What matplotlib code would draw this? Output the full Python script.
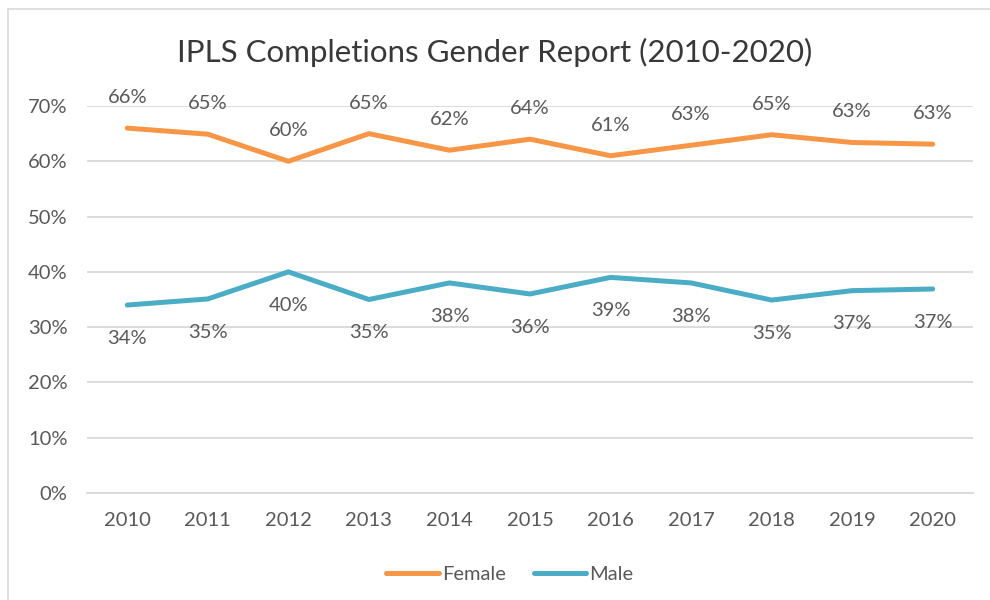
import numpy as np
import matplotlib
matplotlib.use("Agg")
import matplotlib.pyplot as plt
from matplotlib.ticker import PercentFormatter
from matplotlib.patches import Rectangle

plt.rcParams['font.family'] = ['Lato', 'DejaVu Sans']

# data
years = ['2010', '2011', '2012', '2013', '2014', '2015', '2016', '2017', '2018', '2019', '2020']
female = [0.660, 0.649, 0.600, 0.650, 0.620, 0.640, 0.610, 0.629, 0.648, 0.634, 0.631]
male = [0.340, 0.351, 0.400, 0.350, 0.380, 0.360, 0.390, 0.380, 0.349, 0.366, 0.369]
yticks = [0, 0.1, 0.2, 0.3, 0.4, 0.5, 0.6, 0.7]

female_col = '#F79646'
male_col = '#4BACC6'
text_col = '#595959'
grid_col = '#D9D9D9'
fs = 14.5

fig = plt.figure(figsize=(9.9, 6.0), dpi=100)
# light chart border (top and left edges visible)
fig.patches.append(Rectangle((8/990, -0.1), 1.2, 1 - 9/600 + 0.1, transform=fig.transFigure,
                             fill=False, edgecolor='#D9D9D9', linewidth=1.2))

ax = fig.add_axes([87/990, 1 - 493/600, (973 - 87)/990, (493 - 106)/600])
x = np.arange(len(years))

ax.plot(x, female, color=female_col, linewidth=3.6, solid_capstyle='round', label='Female', zorder=3)
ax.plot(x, male, color=male_col, linewidth=3.6, solid_capstyle='round', label='Male', zorder=3)

# data labels: female above, male below
for i in range(len(years)):
    ax.annotate('{:.0f}%'.format(female[i] * 100), (x[i], female[i]), xytext=(0, 22),
                textcoords='offset points', ha='center', va='center', fontsize=fs, color=text_col)
    ax.annotate('{:.0f}%'.format(male[i] * 100), (x[i], male[i]), xytext=(0, -24),
                textcoords='offset points', ha='center', va='center', fontsize=fs, color=text_col)

ax.set_xlim(-0.5, len(years) - 0.5)
ax.set_ylim(0, 0.7)
ax.set_yticks(yticks)
ax.yaxis.set_major_formatter(PercentFormatter(1.0, decimals=0))
ax.set_xticks(x)
ax.set_xticklabels(years)
ax.tick_params(axis='both', length=0, labelsize=fs, labelcolor=text_col)
ax.tick_params(axis='y', pad=14)
ax.tick_params(axis='x', pad=14)
ax.grid(axis='y', color=grid_col, linewidth=1.3)
ax.set_axisbelow(True)
for s in ['top', 'right', 'left']:
    ax.spines[s].set_visible(False)
ax.spines['bottom'].set_color(grid_col)
ax.spines['bottom'].set_linewidth(1.3)

fig.text(0.5, 1 - 52/600, 'IPLS Completions Gender Report (2010-2020)', ha='center', va='center',
         fontsize=22.5, color='#383838')

fig.legend(loc='center', bbox_to_anchor=(0.515, 1 - 574/600), ncol=2, frameon=False,
           fontsize=fs, labelcolor=text_col, handlelength=2.6, handletextpad=0.15, columnspacing=1.4)

fig.savefig('out.png', dpi=100)
